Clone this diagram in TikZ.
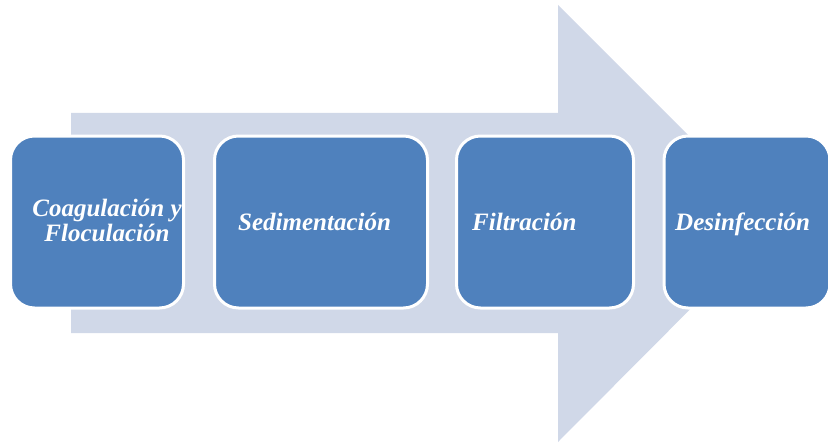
\documentclass[tikz,border=0pt]{standalone}
\usepackage{fontspec}
\setmainfont{Liberation Serif}
\definecolor{arrowgray}{HTML}{D0D8E8}
\definecolor{boxblue}{HTML}{4F81BD}
\begin{document}
\begin{tikzpicture}
   [x=1pt,y=-1pt,
   bigarrow/.style={fill=arrowgray, draw=none},
   stepbox/.style={rectangle, rounded corners=24pt, draw=white, fill=boxblue, line width=3pt, minimum height=172pt},
   steptext/.style={text=white, font=\fontsize{25}{25}\selectfont\bfseries\itshape, inner sep=0pt, align=center},
   ]
 \clip (0,0) rectangle (828,444);
 \fill[bigarrow] (71,113) -- (558,113) -- (558,5) -- (776,223) -- (558,442) -- (558,333) -- (71,333) -- cycle;
 \node at (97,222) [stepbox, minimum width=173pt] (box1) {};
 \node at (321,222) [stepbox, minimum width=213pt] (box2) {};
 \node at (545,222) [stepbox, minimum width=177pt] (box3) {};
 \node at (747,222) [stepbox, minimum width=166pt] (box4) {};
 \node at (107,220) [steptext] (t1) {Coagulación y\\ Floculación};
 \node at (238,230) [steptext, anchor=base west] (t2) {Sedimentación};
 \node at (472,230) [steptext, anchor=base west] (t3) {Filtración};
 \node at (675,230) [steptext, anchor=base west] (t4) {Desinfección};
\end{tikzpicture}
\end{document}
